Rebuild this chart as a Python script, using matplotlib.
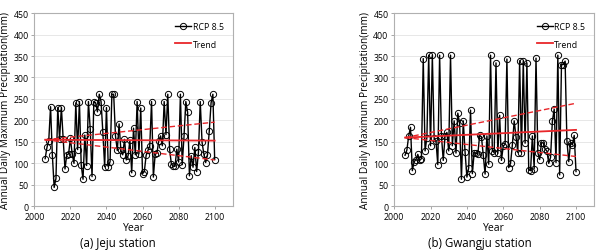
import numpy as np
import matplotlib.pyplot as plt

plt.rcParams['font.family'] = ['Open Sans', 'DejaVu Sans']

# Years 2006-2100
years = np.arange(2006, 2101)

# Annual daily maximum precipitation (mm) - Jeju station
jeju = [111, 137, 153, 232, 119, 44, 65, 230, 157, 230,
        157, 87, 120, 122, 158, 122, 100, 241, 132, 244,
        96, 63, 166, 95, 244, 180, 69, 244, 241, 220,
        261, 244, 172, 92, 230, 92, 104, 261, 261, 164,
        130, 192, 130, 120, 156, 108, 118, 154, 78, 182,
        120, 244, 122, 229, 76, 81, 119, 130, 140, 244,
        68, 121, 124, 153, 164, 141, 244, 167, 261, 133,
        98, 94, 93, 133, 103, 261, 97, 163, 244, 219,
        71, 118, 91, 137, 81, 126, 244, 149, 122, 102,
        120, 175, 241, 261, 109]

# Gwangju station
gwangju = [119, 131, 164, 184, 83, 104, 109, 121, 107, 111,
           344, 129, 160, 352, 141, 352, 158, 152, 97, 352,
           164, 107, 164, 172, 129, 352, 141, 199, 124, 217,
           193, 63, 199, 126, 68, 90, 224, 76, 125, 124,
           121, 165, 162, 119, 75, 164, 98, 352, 129, 125,
           334, 123, 212, 107, 141, 144, 343, 90, 100, 143,
           199, 162, 125, 339, 125, 339, 147, 334, 85, 83,
           164, 88, 345, 125, 109, 148, 148, 133, 129, 100,
           114, 199, 226, 102, 352, 73, 330, 330, 338, 152,
           104, 148, 143, 165, 81]

# Trend line and bounds (start / end)
trend_x = [2006, 2100]
jeju_trend = [155, 153]
jeju_upper = [155, 196]
jeju_lower = [155, 108]
gwangju_trend = [160, 178]
gwangju_upper = [160, 240]
gwangju_lower = [160, 116]

red = '#e8262a'

fig = plt.figure(figsize=(5.99, 2.51), dpi=100)
ax1 = fig.add_axes([0.0573, 0.174, 0.3312, 0.770])
ax2 = fig.add_axes([0.658, 0.174, 0.334, 0.770])

panels = [
    (ax1, jeju, jeju_trend, jeju_upper, jeju_lower, '(a) Jeju station', 0.197),
    (ax2, gwangju, gwangju_trend, gwangju_upper, gwangju_lower, '(b) Gwangju station', 0.801),
]

for ax, vals, tr, up, lo, cap, cx in panels:
    ax.plot(years, vals, color='black', lw=1.0, marker='o', ms=4.5,
            mfc='none', mec='black', mew=0.7, label='RCP 8.5', zorder=3)
    ax.plot(trend_x, tr, color=red, lw=1.3, label='Trend', zorder=4)
    ax.plot(trend_x, up, color=red, lw=1.0, ls=(0, (4, 2)), zorder=4)
    ax.plot(trend_x, lo, color=red, lw=1.0, ls=(0, (4, 2)), zorder=4)

    ax.set_xlim(2000, 2110)
    ax.set_ylim(0, 450)
    ax.set_xticks(range(2000, 2101, 20))
    ax.set_yticks(range(0, 451, 50))
    ax.tick_params(labelsize=6.3, length=2, width=0.6, color='#999999', pad=2)
    ax.grid(axis='y', color='#e3e3e3', lw=0.6)
    ax.set_axisbelow(True)
    for s in ax.spines.values():
        s.set_color('#b0b0b0')
        s.set_linewidth(0.8)
    ax.set_xlabel('Year', fontsize=7.5, labelpad=1)
    ax.set_ylabel('Annual Daily Maximum Precipitation(mm)', fontsize=7.3, labelpad=2)
    ax.legend(loc='upper right', fontsize=6.3, frameon=False, handlelength=1.8,
              handletextpad=0.2, labelspacing=1.0, borderaxespad=0.6)
    fig.text(cx, 0.004, cap, ha='center', va='bottom', fontsize=8.3)

fig.savefig('out.png', dpi=100)
